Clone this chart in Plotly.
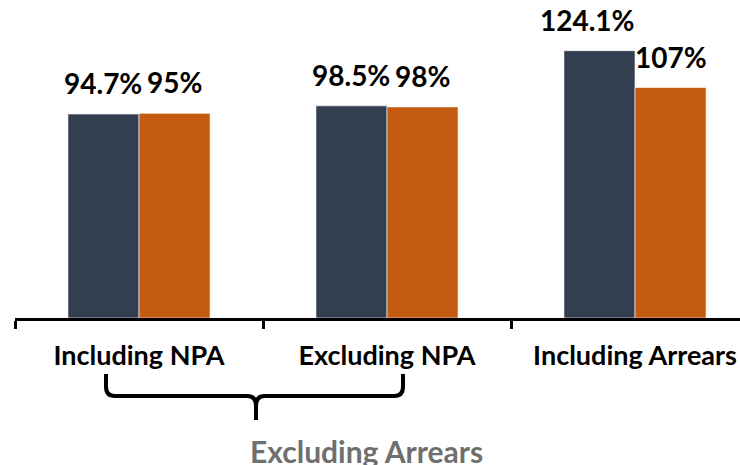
import plotly.graph_objects as go

categories = ["Including NPA", "Excluding NPA", "Including Arrears"]
series_a = [94.7, 98.5, 124.1]
series_b = [95, 98, 107]
labels_a = ["94.7%", "98.5%", "124.1%"]
labels_b = ["95%", "98%", "107%"]
group_label = "Excluding Arrears"

FONT = "Lato"
DARK = "#333F50"
ORANGE = "#C55A11"

fig = go.Figure()
fig.add_trace(go.Bar(x=categories, y=series_a, marker=dict(color=DARK, line=dict(color="rgba(255,255,255,0.6)", width=1))))
fig.add_trace(go.Bar(x=categories, y=series_b, marker=dict(color=ORANGE, line=dict(color="rgba(255,255,255,0.6)", width=1))))

W, H = 740, 465
ml, mr, mt, mb = 15, 0, 0, 147
plot_w = W - ml - mr
cat_px = 248
x_max = -0.5 + plot_w / cat_px
bar_px = cat_px * (1 - 0.427) / 2

for i, (cat, va, la, vb, lb) in enumerate(zip(categories, series_a, labels_a, series_b, labels_b)):
    # the widest label is nudged left as in the original
    nudge = -12 if i == len(categories) - 1 else 0
    fig.add_annotation(x=cat, y=va, text=la, showarrow=False, xshift=-bar_px / 2 + nudge, yshift=12,
                       yanchor="bottom", font=dict(family=FONT, size=28, color="black", weight="bold"))
    fig.add_annotation(x=cat, y=vb, text=lb, showarrow=False, xshift=bar_px / 2, yshift=12,
                       yanchor="bottom", font=dict(family=FONT, size=28, color="black", weight="bold"))

# brace under the first two categories
def px(xp):
    return (xp - ml) / plot_w
def py(yp):
    return (H - mb - yp) / (H - mb - mt)

xl, xr, xc = px(106), px(403), px(256)
y0, y1, y2 = py(374), py(396), py(420)
r = 0.012
ry = 0.03
path = (f"M {xl},{y0} L {xl},{y1 + ry} Q {xl},{y1} {xl + r},{y1} "
        f"L {xc - r},{y1} Q {xc},{y1} {xc},{y1 - ry} L {xc},{y2} "
        f"M {xc},{y1 - ry} Q {xc},{y1} {xc + r},{y1} L {xr - r},{y1} Q {xr},{y1} {xr},{y1 + ry} L {xr},{y0}")
fig.add_shape(type="path", xref="paper", yref="paper", path=path, line=dict(color="black", width=4))

fig.add_annotation(xref="paper", yref="paper", x=px(248), y=py(451), text=group_label, showarrow=False,
                   yanchor="middle", font=dict(family=FONT, size=30, color="#6F6F6F", weight="bold"))

fig.update_layout(
    width=W, height=H, margin=dict(l=ml, r=mr, t=mt, b=mb, autoexpand=False),
    paper_bgcolor="white", plot_bgcolor="white",
    barmode="group", bargap=0.427, bargroupgap=0,
    showlegend=False,
    xaxis=dict(range=[-0.5, x_max], showline=True, linecolor="black", linewidth=3,
               ticks="outside", tickson="boundaries", ticklen=8, tickwidth=3, tickcolor="black",
               ticklabelstandoff=12, automargin=False,
               tickfont=dict(family=FONT, size=27, color="black", weight="bold"), showgrid=False),
    yaxis=dict(range=[0, (H - mb - mt) / 2.154], visible=False, showgrid=False, zeroline=False,
               automargin=False),
)
fig.write_html("out.html", config={"displayModeBar": False},
               post_script="document.body.style.margin='0';")
